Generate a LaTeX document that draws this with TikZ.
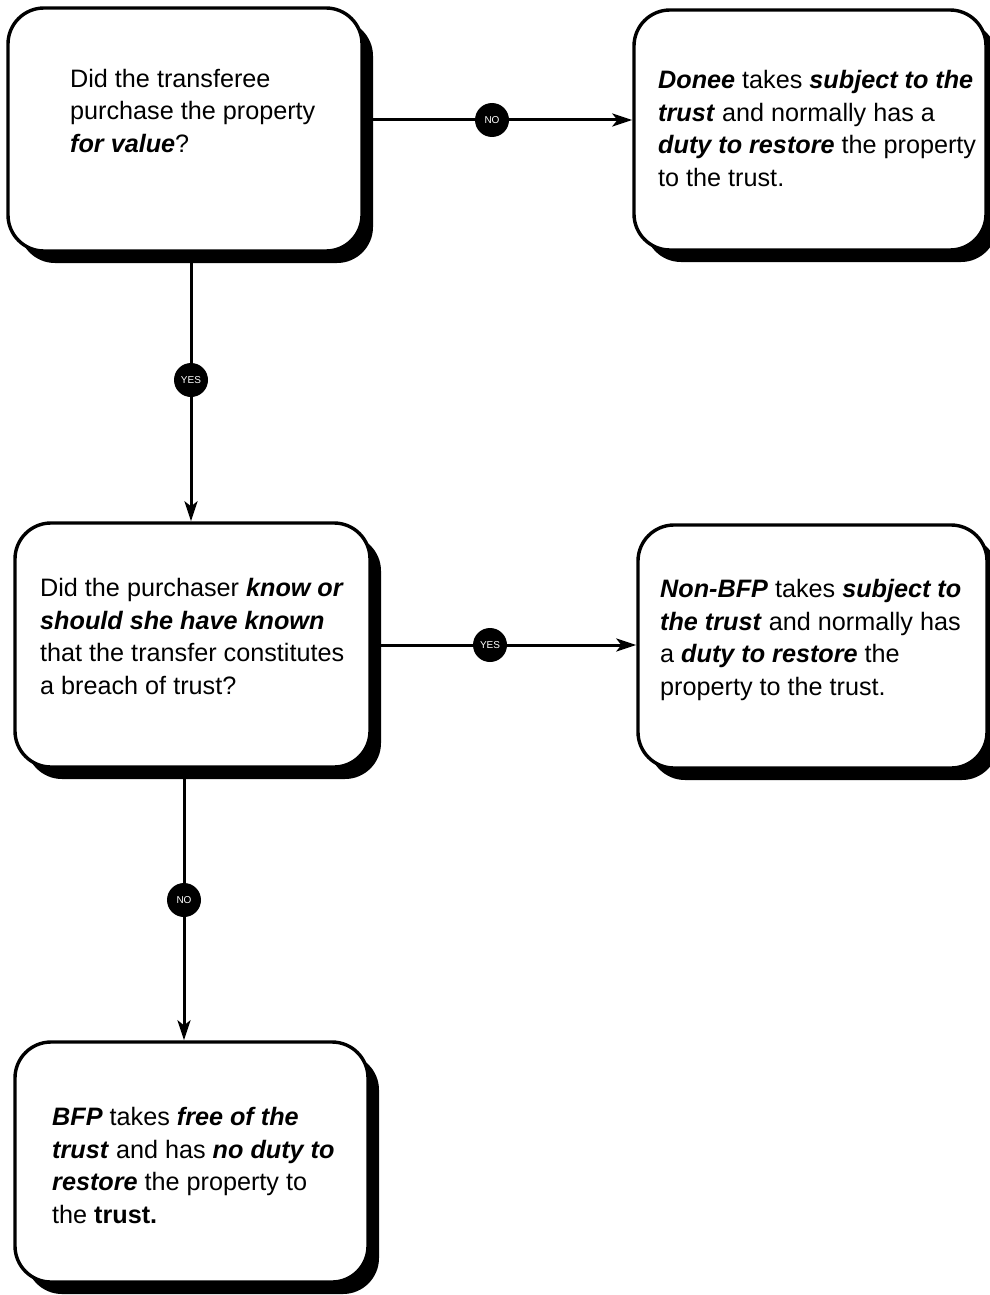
\documentclass[tikz,border=0pt]{standalone}
\usepackage{fontspec}
\setmainfont{Liberation Sans}
\usetikzlibrary{arrows.meta,shadows}
\newcommand{\bi}[1]{\textbf{\textit{#1}}}
\begin{document}
\begin{tikzpicture}[x=1pt,y=-1pt,
 box/.style={draw=black, line width=3.4pt, fill=white, rounded corners=36pt, rectangle,
   drop shadow={shadow xshift=11pt, shadow yshift=-12pt, opacity=1, fill=black}},
 txt/.style={anchor=base west, align=left, font=\fontsize{25.2}{32.5}\selectfont, inner sep=0pt},
 conn/.style={line width=3pt},
 arr/.style={line width=3pt, -{Stealth[length=20pt,width=13pt,inset=5pt]}},
 dot/.style={circle, fill=black, minimum size=34pt, inner sep=0pt, text=white, font=\fontsize{10}{10}\selectfont}]
\useasboundingbox[fill=white] (0,0) rectangle (989,1295);

\node[box, minimum width=354pt, minimum height=243pt] (b1) at (185,129.5) {};
\node[box, minimum width=352pt, minimum height=240pt] (b2) at (810,130) {};
\node[box, minimum width=355pt, minimum height=244pt] (b3) at (192.5,645) {};
\node[box, minimum width=349pt, minimum height=243pt] (b4) at (812.5,646.5) {};
\node[box, minimum width=353pt, minimum height=240pt] (b5) at (191.5,1162) {};

% anchor base = baseline of the last line
\node[txt] (t1) at (70,152) {Did the transferee\\purchase the property\\\bi{for value}?};
\node[txt] (t2) at (658,186) {\bi{Donee} takes \bi{subject to the}\\\bi{trust} and normally has a\\\bi{duty to restore} the property\\to the trust.};
\node[txt] (t3) at (40,694) {Did the purchaser \bi{know or}\\\bi{should she have known}\\that the transfer constitutes\\a breach of trust?};
\node[txt] (t4) at (660,695) {\bi{Non-BFP} takes \bi{subject to}\\\bi{the trust} and normally has\\a \bi{duty to restore} the\\property to the trust.};
\node[txt] (t5) at (52,1223) {\bi{BFP} takes \bi{free of the}\\\bi{trust} and has \bi{no duty to}\\\bi{restore} the property to\\the \textbf{trust.}};

\node[dot] (d1) at (492,120) {NO};
\node[dot] (d2) at (191,380) {YES};
\node[dot] (d3) at (490,645) {YES};
\node[dot] (d4) at (184,900) {NO};

\draw[conn] (b1.east |- d1) -- (d1);
\draw[arr] (d1) -- (b2.west |- d1);
\draw[conn] (d2 |- b1.south) -- (d2);
\draw[arr] (d2) -- (d2 |- b3.north);
\draw[conn] (b3.east |- d3) -- (d3);
\draw[arr] (d3) -- (b4.west |- d3);
\draw[conn] (d4 |- b3.south) -- (d4);
\draw[arr] (d4) -- (d4 |- b5.north);
\end{tikzpicture}
\end{document}
